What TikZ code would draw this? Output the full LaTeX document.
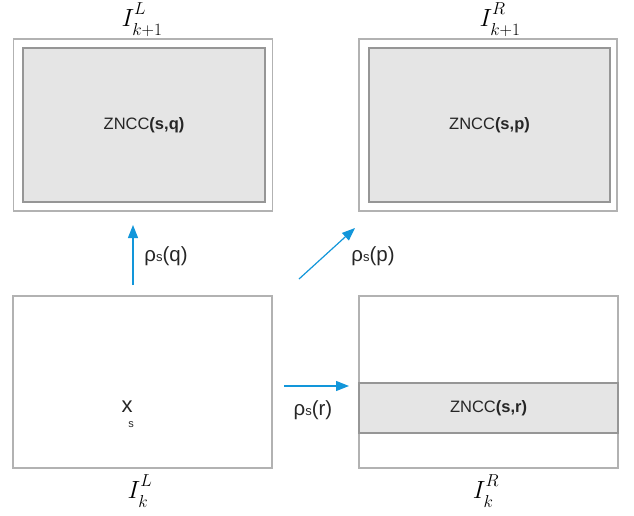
\documentclass[tikz,border=0pt]{standalone}
\usepackage{fontspec}
\setmainfont{Liberation Sans}
\usetikzlibrary{arrows.meta,positioning}
\definecolor{flowblue}{RGB}{18,150,218}
\definecolor{framegray}{RGB}{178,178,178}
\definecolor{edgegray}{RGB}{150,150,150}
\definecolor{zonegray}{RGB}{229,229,229}
\newcommand{\imgsup}[1]{\raisebox{3pt}{$\scriptscriptstyle #1$}}
\newcommand{\imgsub}[1]{\raisebox{-3pt}{$\scriptscriptstyle #1$}}

\begin{document}
\begin{tikzpicture}[x=1pt,y=-1pt,>={Triangle[length=13pt,width=10pt]},
                    frame/.style={draw=framegray,line width=1.2pt,inner sep=0pt,
                                  minimum width=259pt,minimum height=172pt},
                    zone/.style={draw=edgegray,fill=zonegray,line width=1.2pt,inner sep=0pt,
                                 text=black!85,font=\fontsize{16.5}{19}\selectfont},
                    flow/.style={->,draw=flowblue,line width=1.2pt},
                    rho/.style={font=\fontsize{20.5}{24}\selectfont,text=black!85},
                    imgname/.style={font=\fontsize{32}{32}\selectfont}]
  \useasboundingbox (0,0) rectangle (634,515);
  % frames k+1
  \node[frame] (fL1) at (143,125) {};
  \node[zone,minimum width=242pt,minimum height=154pt] (zq) at (144,125)
        {ZNCC\textbf{(s,q)}};
  \node[frame,minimum width=258pt] (fR1) at (488,125) {};
  \node[zone,minimum width=241pt,minimum height=154pt] (zp) at (489.5,125)
        {ZNCC\textbf{(s,p)}};
  % frames k
  \node[frame] (fL0) at (142.5,382) {};
  \node[frame] (fR0) at (488.5,382) {};
  \node[zone,minimum width=259pt,minimum height=50pt] (zr) at (488.5,408)
        {ZNCC\textbf{(s,r)}};
  \node[font=\fontsize{22}{22}\selectfont,text=black!85] (xs) at (127,407) {x};
  \node[font=\fontsize{11}{11}\selectfont,text=black!85] (xsub) at (131,425) {s};
  % names
  \node[imgname] (nL1) at (142,20) {$I^{\imgsup{L}}_{\imgsub{k+1}}$};
  \node[imgname] (nR1) at (500,20) {$I^{\imgsup{R}}_{\imgsub{k+1}}$};
  \node[imgname] (nL0) at (140,491) {$I^{\imgsup{L}}_{\imgsub{k}}$};
  \node[imgname] (nR0) at (486,491) {$I^{\imgsup{R}}_{\imgsub{k}}$};
  % arrows
  \coordinate (q0) at (133,285);
  \coordinate (q1) at (133,225);
  \coordinate (p0) at (299,279);
  \coordinate (p1) at (355,228);
  \coordinate (r0) at (284,386);
  \coordinate (r1) at (349,386);
  \draw[flow] (q0) -- (q1);
  \draw[flow] (p0) -- (p1);
  \draw[flow] (r0) -- (r1);
  \node[rho] (lq) at (166,256) {ρ{\fontsize{13}{13}\selectfont s}(q)};
  \node[rho] (lp) at (373,256) {ρ{\fontsize{13}{13}\selectfont s}(p)};
  \node[rho] (lr) at (313,410) {ρ{\fontsize{13}{13}\selectfont s}(r)};
\end{tikzpicture}
\end{document}
